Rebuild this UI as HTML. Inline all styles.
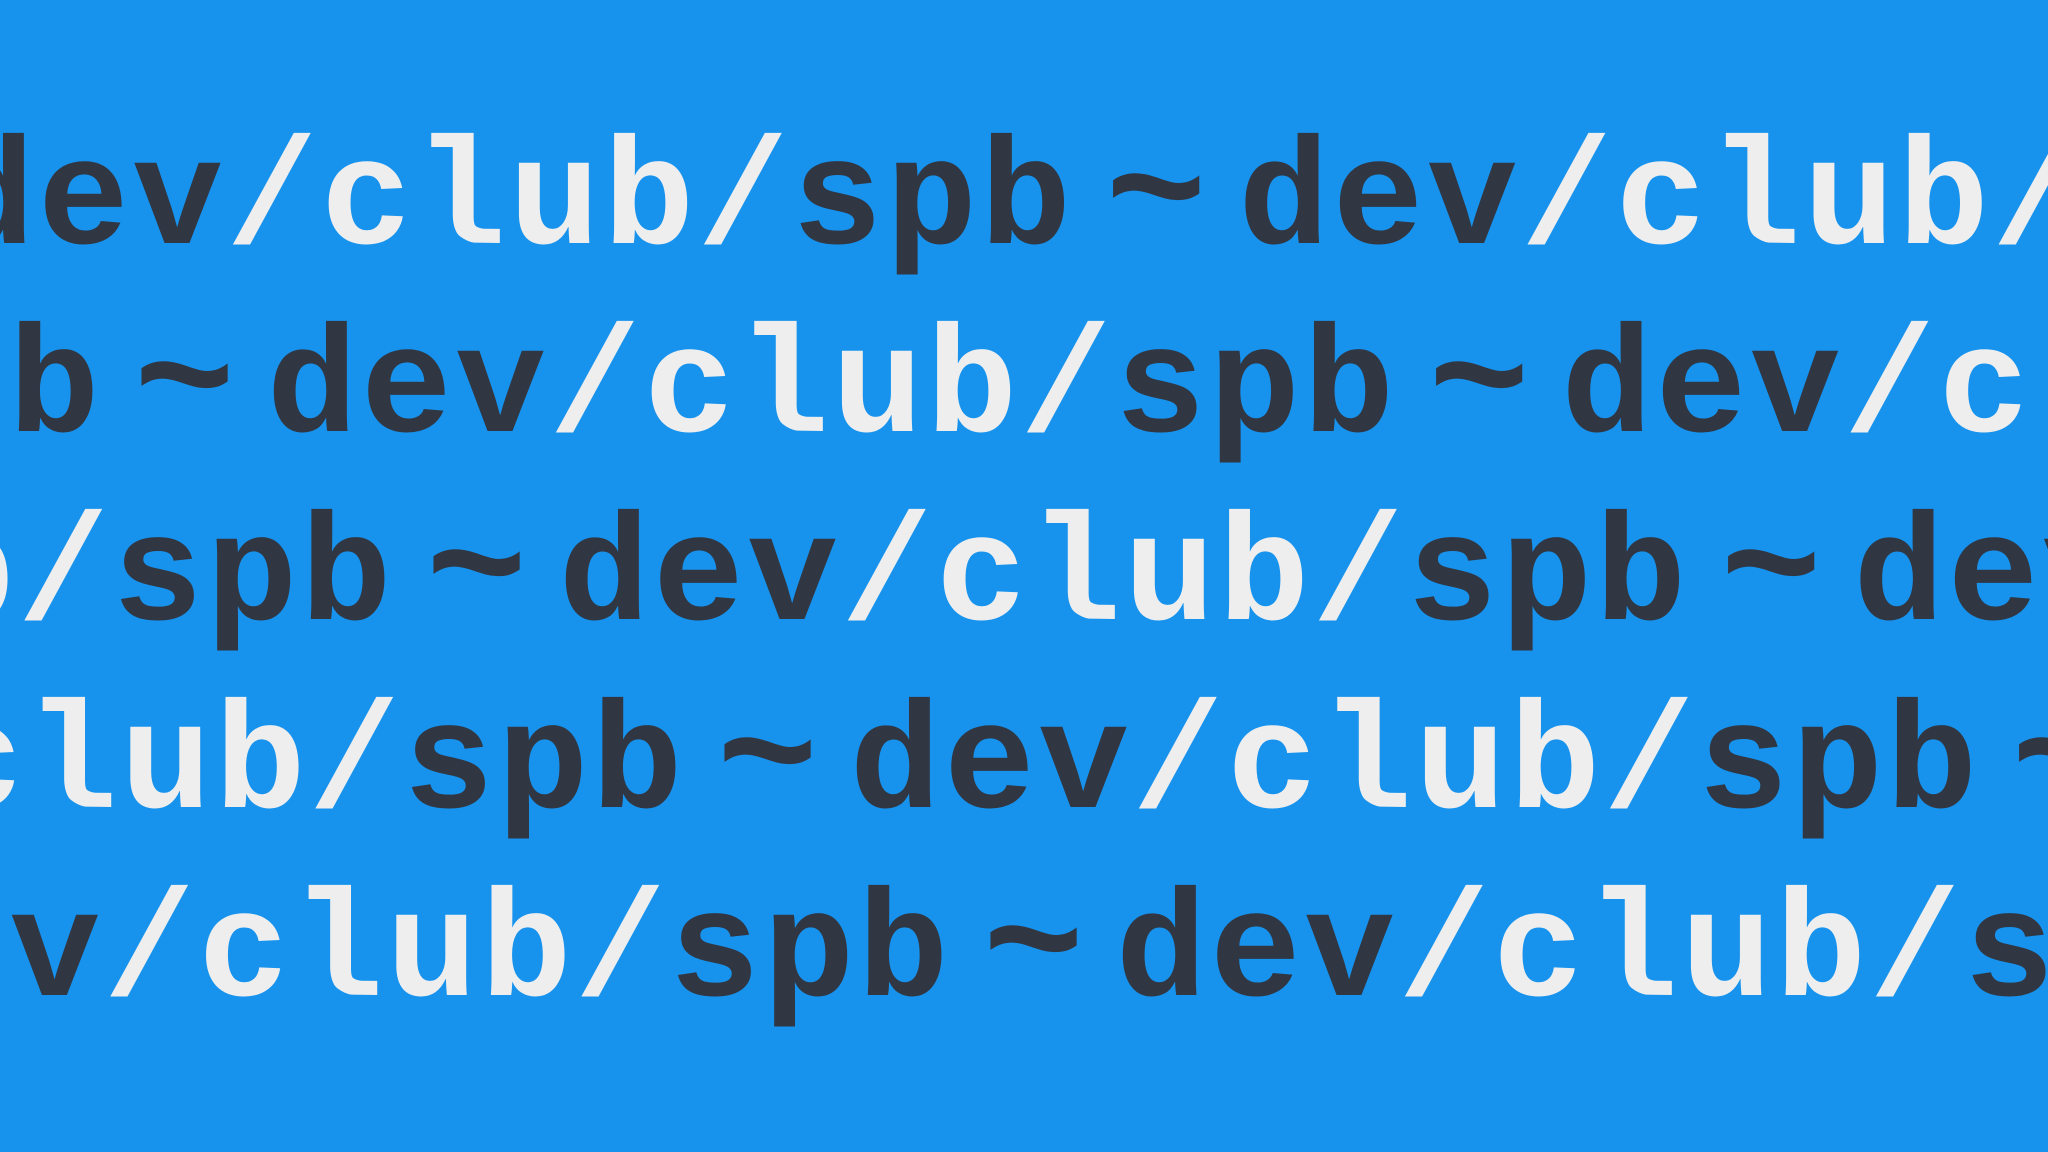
<!DOCTYPE html>
<html><head><meta charset="utf-8"><style>
html,body{margin:0;padding:0}
body{width:2048px;height:1152px;overflow:hidden;background:#1793ee;position:relative;font-family:"Liberation Mono",monospace;font-weight:bold}
#wrap{position:absolute;left:0;top:0;width:2048px;height:1152px;overflow:hidden}
.row{position:absolute;white-space:nowrap;font-size:152px;line-height:1;letter-spacing:3px;height:160px}
.row span{display:inline-block}
.d{color:#303642}
.l{color:#eeeeee}
.t{color:#303642;width:164px;text-align:center;letter-spacing:0;font-size:170px}
</style></head><body>
<div id="wrap">
<div class="row" style="left:-1351px;top:114px"></div>
<div class="row" style="left:-1028px;top:302px"></div>
<div class="row" style="left:-736px;top:490px"></div>
<div class="row" style="left:-445px;top:678px"></div>
<div class="row" style="left:-179px;top:866px"></div>
</div>
<script>
var unit='<span class="d">dev</span><span class="l">/club/</span><span class="d">spb</span><span class="t">~</span>';
document.querySelectorAll('.row').forEach(function(r){r.innerHTML=unit+unit+unit+unit;});
</script>
</body></html>
